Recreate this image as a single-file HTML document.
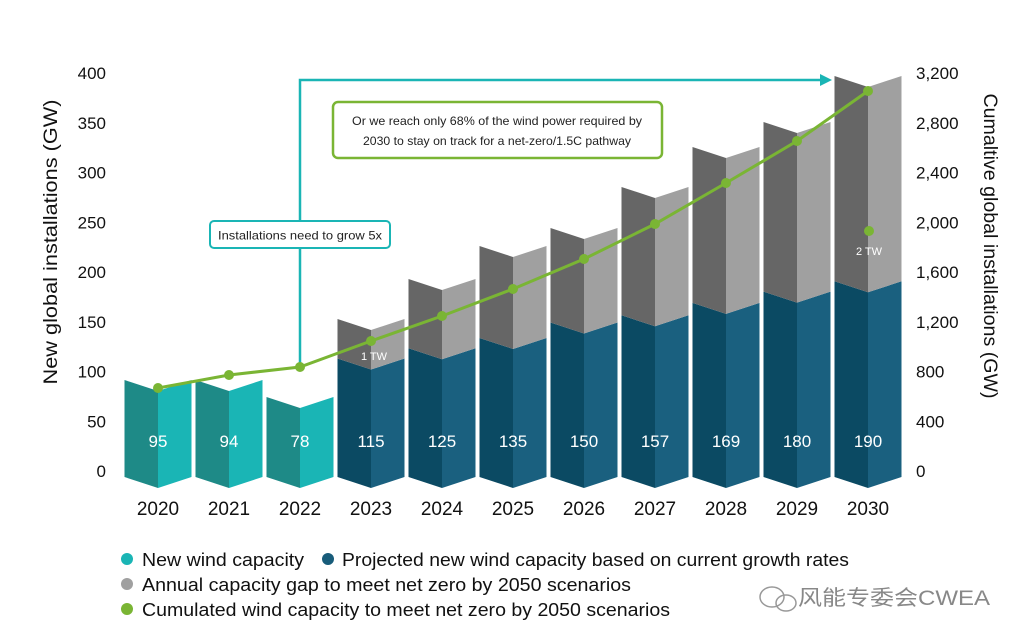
<!DOCTYPE html>
<html><head><meta charset="utf-8"><style>
html,body{margin:0;padding:0;background:#fff;}
svg{display:block;font-family:"Liberation Sans","Noto Sans CJK SC",sans-serif;}
</style></head><body>
<svg id="s" width="1024" height="641" viewBox="0 0 1024 641" xmlns="http://www.w3.org/2000/svg">
<g id="bars"></g>
<!-- teal annotation -->
<polyline points="300,366 300,80 822,80" fill="none" stroke="#1ab5b5" stroke-width="2.5"/>
<polygon points="832,80 820,74 820,86" fill="#1ab5b5"/>
<rect x="210" y="221" width="180" height="27" rx="4" fill="#fff" stroke="#1ab5b5" stroke-width="2"/>
<text x="300" y="239.5" font-size="12" text-anchor="middle" fill="#222" textLength="164" lengthAdjust="spacingAndGlyphs">Installations need to grow 5x</text>
<rect x="333" y="102" width="329" height="56" rx="5" fill="#fff" stroke="#7ab534" stroke-width="2.5"/>
<text x="497" y="125" font-size="12" text-anchor="middle" fill="#222" textLength="290" lengthAdjust="spacingAndGlyphs">Or we reach only 68% of the wind power required by</text>
<text x="497" y="145" font-size="12" text-anchor="middle" fill="#222" textLength="268" lengthAdjust="spacingAndGlyphs">2030 to stay on track for a net-zero/1.5C pathway</text>
<g id="line"></g>
<g id="labels" font-size="17" fill="#111"></g>
<text transform="translate(57,242) rotate(-90)" font-size="19" text-anchor="middle" fill="#111" textLength="285" lengthAdjust="spacingAndGlyphs">New global installations (GW)</text>
<text transform="translate(984,246) rotate(90)" font-size="19" text-anchor="middle" fill="#111" textLength="305" lengthAdjust="spacingAndGlyphs">Cumaltive global installations (GW)</text>
<!-- legend -->
<g font-size="18" fill="#111">
<circle cx="127" cy="559" r="6" fill="#1ab5b5"/>
<text x="142" y="566" textLength="162" lengthAdjust="spacingAndGlyphs">New wind capacity</text>
<circle cx="328" cy="559" r="6" fill="#185c7a"/>
<text x="342" y="566" textLength="507" lengthAdjust="spacingAndGlyphs">Projected new wind capacity based on current growth rates</text>
<circle cx="127" cy="584" r="6" fill="#a0a0a0"/>
<text x="142" y="591" textLength="489" lengthAdjust="spacingAndGlyphs">Annual capacity gap to meet net zero by 2050 scenarios</text>
<circle cx="127" cy="609" r="6" fill="#7ab534"/>
<text x="142" y="616" textLength="528" lengthAdjust="spacingAndGlyphs">Cumulated wind capacity to meet net zero by 2050 scenarios</text>
</g>
<g fill="none" stroke="#999" stroke-width="1.5"><ellipse cx="772" cy="597" rx="12" ry="10"/><ellipse cx="786" cy="603" rx="10" ry="8"/></g>
<text x="798" y="605" font-size="21" fill="#888" textLength="192" lengthAdjust="spacingAndGlyphs">风能专委会CWEA</text>
</svg>
<script>
var NS="http://www.w3.org/2000/svg";
function el(p,t,a,txt){var e=document.createElementNS(NS,t);for(var k in a)e.setAttribute(k,a[k]);if(txt!=null)e.textContent=txt;p.appendChild(e);return e;}
var bars=document.getElementById('bars'),lab=document.getElementById('labels'),line=document.getElementById('line');
var vals=[95,94,78,115,125,135,150,157,169,180,190];
var tops=[380,380,397,319,279,246,228,187,147,122,76];
var B=477,D=11,W=67;
function seg(xc,yt,yb,cl,cr){
 var x0=xc-W/2,x1=xc+W/2;
 el(bars,'polygon',{points:x0+','+yt+' '+xc+','+(yt+D)+' '+xc+','+(yb+D)+' '+x0+','+yb,fill:cl});
 el(bars,'polygon',{points:xc+','+(yt+D)+' '+x1+','+yt+' '+x1+','+yb+' '+xc+','+(yb+D),fill:cr});
}
for(var i=0;i<11;i++){
 var xc=158+71*i,v=vals[i];
 var yv=B-v*1.03;
 if(i<3){seg(xc,tops[i],B,'#1e8a87','#1ab5b5');}
 else{seg(xc,yv,B,'#0b4a63','#1a607f');seg(xc,tops[i],yv,'#666666','#a0a0a0');}
 el(bars,'text',{x:xc,y:447,'font-size':17,'text-anchor':'middle',fill:'#fff'},String(v));
 el(lab,'text',{x:xc,y:515,'font-size':19,'text-anchor':'middle'},String(2020+i));
}
el(bars,'text',{x:374,y:360,'font-size':11,'text-anchor':'middle',fill:'#fff'},'1 TW');
el(bars,'text',{x:869,y:255,'font-size':11,'text-anchor':'middle',fill:'#fff'},'2 TW');
for(var k=0;k<=8;k++){
 var y=471-k*49.75+6;
 el(lab,'text',{x:106,y:y,'text-anchor':'end'},String(k*50));
 el(lab,'text',{x:916,y:y},(k*400).toLocaleString('en-US'));
}
var ly=[388,375,367,341,316,289,259,224,183,141,91];
var pts=ly.map(function(y,i){return (158+71*i)+','+y}).join(' ');
el(line,'polyline',{points:pts,fill:'none',stroke:'#7ab534','stroke-width':3});
ly.forEach(function(y,i){el(line,'circle',{cx:158+71*i,cy:y,r:5,fill:'#7ab534'});});
el(line,'circle',{cx:869,cy:231,r:5,fill:'#7ab534'});
</script>
</body></html>
